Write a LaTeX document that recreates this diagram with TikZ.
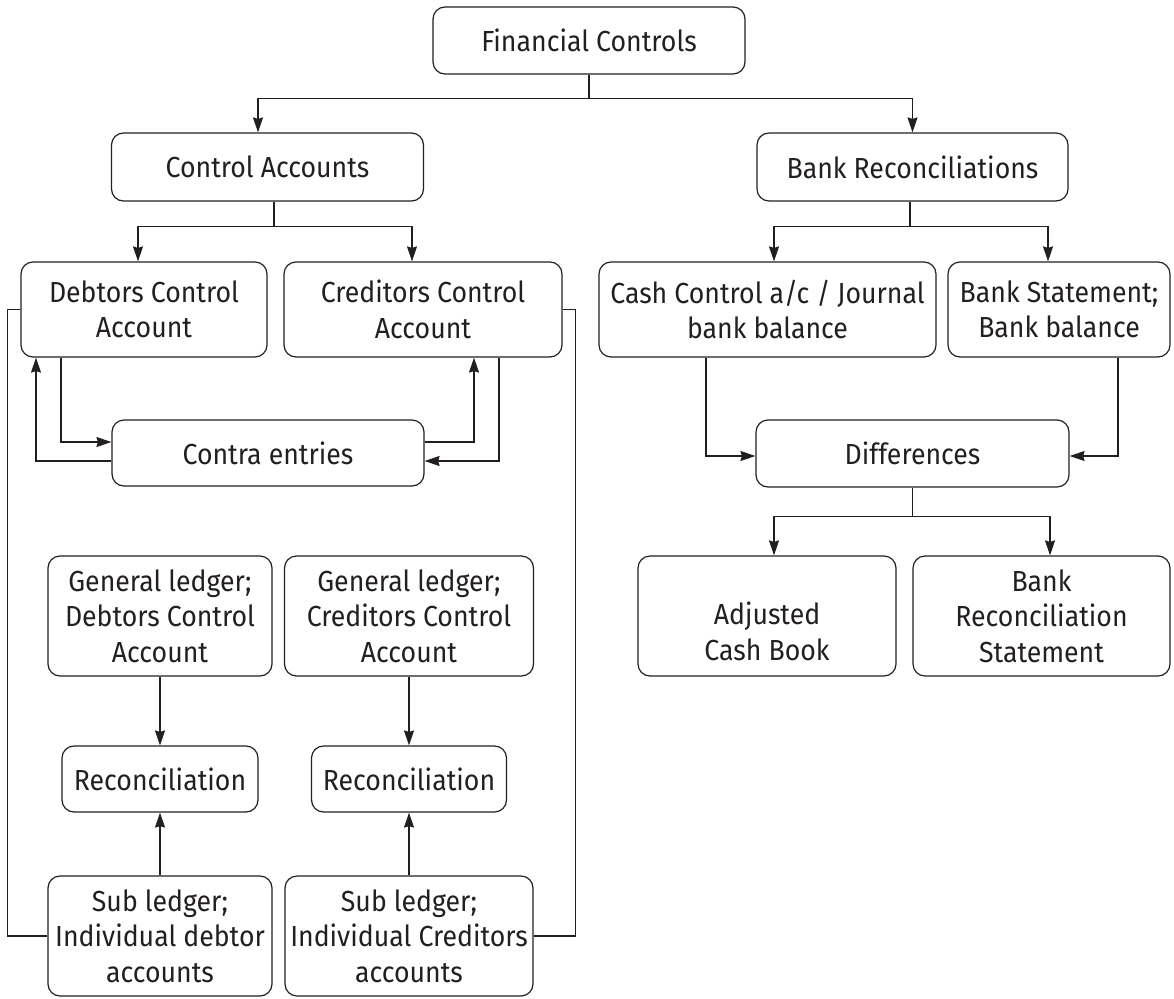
\documentclass[tikz,border=0pt]{standalone}
\usepackage{fontspec}
\setmainfont{Fira Sans}[FakeStretch=0.92]
\usepackage{tikz}
\usetikzlibrary{arrows,arrows.meta}
\definecolor{ink}{RGB}{35,31,32}

\begin{document}
\begin{tikzpicture}[x=1pt,y=-1pt,line width=1.2pt,draw=ink,text=ink,
>={Stealth[length=15pt,width=10pt,inset=1.5pt]},
blk/.style={draw,rounded corners=12pt,align=center,inner sep=0pt,
font=\fontsize{29}{35.5}\selectfont}]
\useasboundingbox (0,0) rectangle (1174,998);
% top levels
\node[blk,minimum width=312,minimum height=67] (fin) at (589,40.5) {Financial Controls};
\node[blk,minimum width=312,minimum height=68] (ctrl) at (267.5,167) {Control Accounts};
\node[blk,minimum width=311,minimum height=68] (bank) at (912.5,167) {Bank Reconciliations};
% control accounts side
\node[blk,minimum width=246,minimum height=95] (deb) at (144,309.5) {Debtors Control\\Account};
\node[blk,minimum width=278,minimum height=95] (cred) at (423,309.5) {Creditors Control\\Account};
\node[blk,minimum width=312,minimum height=66] (contra) at (268,453) {Contra entries};
\node[blk,minimum width=224,minimum height=120] (gld) at (160,616) {General ledger;\\Debtors Control\\Account};
\node[blk,minimum width=249,minimum height=120] (glc) at (409,616) {General ledger;\\Creditors Control\\Account};
\node[blk,minimum width=196,minimum height=66] (recd) at (160,779) {Reconciliation};
\node[blk,minimum width=195,minimum height=66] (recc) at (409,779) {Reconciliation};
\node[blk,minimum width=224,minimum height=120] (subd) at (160,936) {Sub ledger;\\Individual debtor\\accounts};
\node[blk,minimum width=248,minimum height=120] (subc) at (409,936) {Sub ledger;\\Individual Creditors\\accounts};
% bank side
\node[blk,minimum width=337,minimum height=95] (cash) at (767.5,309.5) {Cash Control a/c / Journal\\bank balance};
\node[blk,minimum width=222,minimum height=95] (stmt) at (1059,309.5) {Bank Statement;\\Bank balance};
\node[blk,minimum width=313,minimum height=67] (diff) at (912.5,453.5) {Differences};
\node[blk,minimum width=258,minimum height=120] (adj) at (767,616) {\mbox{}\\[18pt]Adjusted\\Cash Book};
\node[blk,minimum width=257,minimum height=120] (brs) at (1041.5,616) {Bank\\Reconciliation\\Statement};

% branches
\draw[->] (fin.south) -- ++(0,24) -| ([xshift=-9.5pt]ctrl.north);
\draw[->] (fin.south) -- ++(0,24) -| (bank.north);
\draw[->] ([xshift=6.5pt]ctrl.south) -- ++(0,25) -| ([xshift=-6pt]deb.north);
\draw[->] ([xshift=6.5pt]ctrl.south) -- ++(0,25) -| ([xshift=-11pt]cred.north);
\draw[->] ([xshift=-2.5pt]bank.south) -- ++(0,25) -| ([xshift=6.5pt]cash.north);
\draw[->] ([xshift=-2.5pt]bank.south) -- ++(0,25) -| ([xshift=-11pt]stmt.north);
\draw[->] (diff.south) -- ++(0,29) -| ([xshift=7pt]adj.north);
\draw[->] (diff.south) -- ++(0,29) -| ([xshift=8.5pt]brs.north);

% contra loops
\draw[->] ([xshift=-83pt]deb.south) |- ([yshift=11pt]contra.west);
\draw[->] ([yshift=-8pt]contra.west) -| ([xshift=-108pt]deb.south);
\draw[->] ([yshift=11pt]contra.east) -| ([xshift=51pt]cred.south);
\draw[->] ([xshift=76pt]cred.south) |- ([yshift=-8pt]contra.east);

% differences
\draw[->] ([xshift=-61.5pt]cash.south) |- ([yshift=-2.5pt]diff.west);
\draw[->] ([xshift=59pt]stmt.south) |- ([yshift=-2.5pt]diff.east);

% reconciliations
\path[->] (gld.south) edge (recd.north)
          (subd.north) edge (recd.south)
          (glc.south) edge (recc.north)
          (subc.north) edge (recc.south);
\draw (subd.west) -- ++(-40,0) |- (deb.west);
\draw (subc.east) -- ++(42,0) |- (cred.east);
\end{tikzpicture}
\end{document}
